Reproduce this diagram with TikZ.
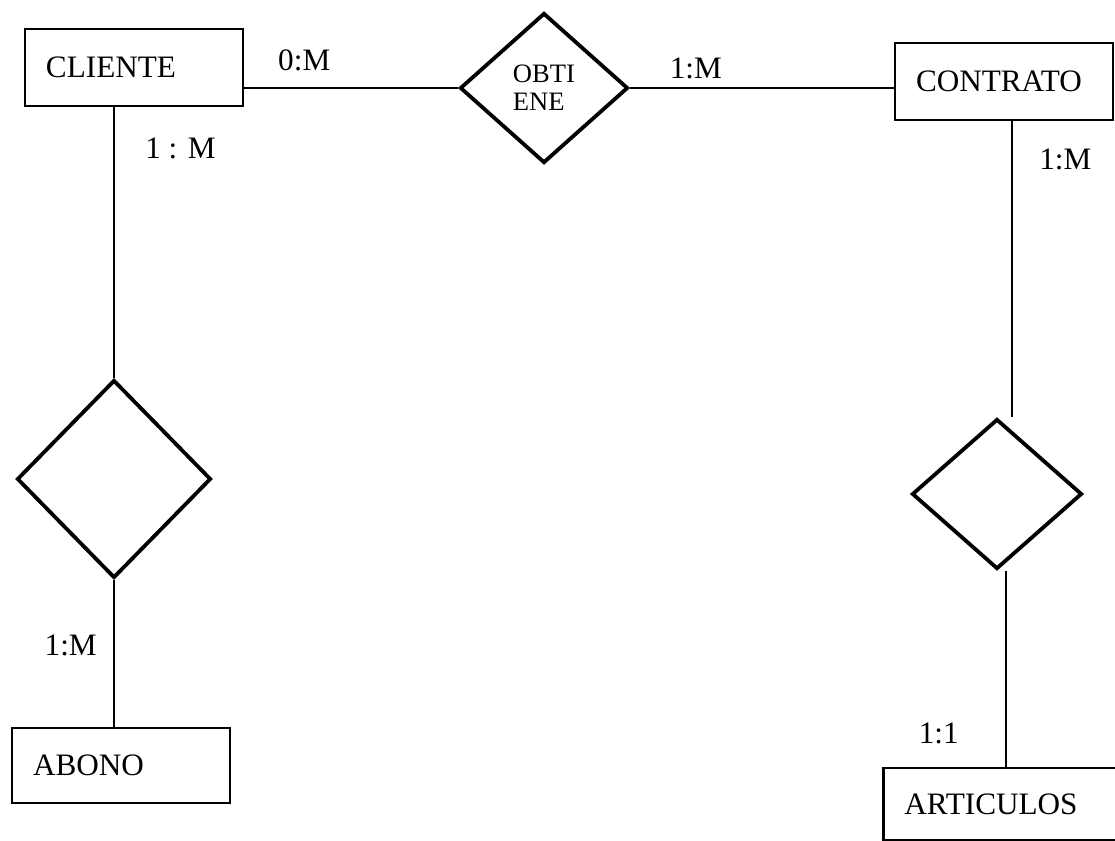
\documentclass[tikz,border=0pt]{standalone}
\usepackage{fontspec}
\setmainfont{Liberation Serif}
\usetikzlibrary{shapes.geometric}

\begin{document}
\begin{tikzpicture}[x=0.5pt, y=-0.5pt,
    entidad/.style={draw, line width=1.4pt, rectangle, minimum height=38.5pt,
        text width=88pt, inner xsep=10.5pt, align=left,
        font=\fontsize{15.6pt}{18pt}\selectfont},
    relacion/.style={draw, line width=1.9pt, diamond, inner sep=0pt, align=left,
        font=\fontsize{13.3pt}{14pt}\selectfont},
    card/.style={inner sep=0pt, font=\fontsize{15.6pt}{18pt}\selectfont},
    linea/.style={line width=1.3pt}]
  \useasboundingbox (0,0) rectangle (1115,841);
  % entidades
  \node[entidad] (CLI) at (134,67.5) {CLIENTE};
  \node[entidad] (CON) at (1004,81.5) {CONTRATO};
  \node[entidad, minimum height=37.5pt] (ABO) at (121,765.5) {ABONO};
  \node[entidad, minimum height=36pt, text width=106pt, anchor=west] (ART) at (882,804) {ARTICULOS};
  % relaciones
  \node[relacion, minimum width=84pt, minimum height=75pt] (OBT) at (544,88) {OBTI\\ENE};
  \node[relacion, minimum width=97pt, minimum height=99pt] (RA) at (114,479) {};
  \node[relacion, minimum width=85pt, minimum height=75pt] (RB) at (997,494) {};
  % lineas con cardinalidades
  \draw[linea] (OBT.west -| CLI.east) -- node[card, above=8pt, pos=0.28] (c1) {0:M} (OBT.west);
  \draw[linea] (OBT.east) -- node[card, above=4pt, pos=0.25] (c2) {1:M} (OBT.east -| CON.west);
  \draw[linea] (RA.north |- CLI.south) -- node[card, right=15pt, pos=0.15] (c3) {1 : M} (RA.north);
  \draw[linea] (RA.south) -- node[card, left=8pt, pos=0.45] (c4) {1:M} (RA.south |- ABO.north);
  \draw[linea] ([xshift=7.5pt]RB.north |- CON.south) -- node[card, right=13pt, pos=0.13] (c5) {1:M} ([xshift=7.5pt]RB.north);
  \draw[linea] ([xshift=4.5pt]RB.south) -- node[card, left=23pt, pos=0.83] (c6) {1:1} ([xshift=4.5pt]RB.south |- ART.north);
\end{tikzpicture}
\end{document}
